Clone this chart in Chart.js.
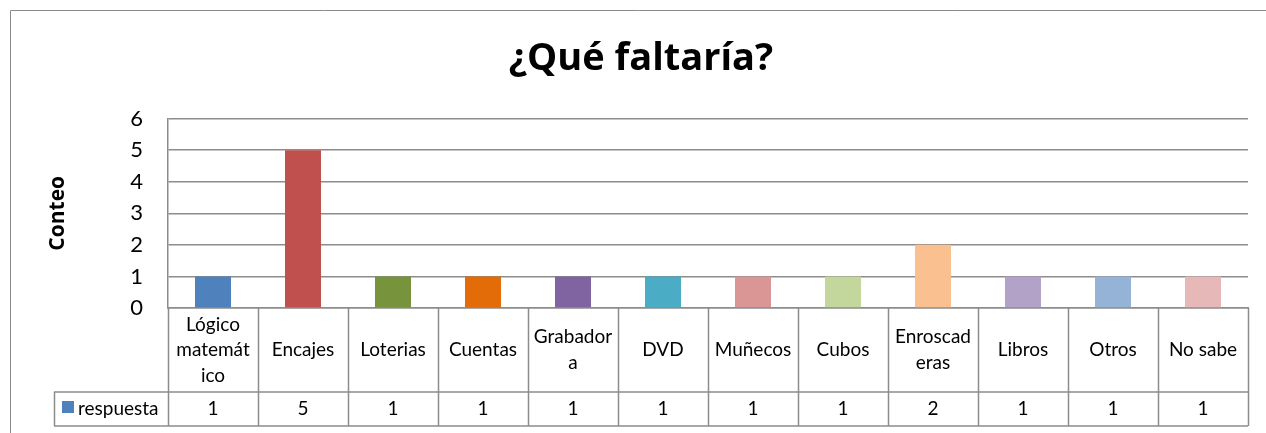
<!DOCTYPE html>
<html>
<head>
<meta charset="utf-8">
<script src="https://cdn.jsdelivr.net/npm/chart.js@4"></script>
<style>
  html, body { margin: 0; padding: 0; background: #fff; }
  canvas { display: block; }
</style>
</head>
<body>
<canvas id="myChart" width="1266" height="433"></canvas>
<script>
const categories = [
  ["Lógico", "matemát", "ico"], "Encajes", "Loterias", "Cuentas", ["Grabador", "a"],
  "DVD", "Muñecos", "Cubos", ["Enroscad", "eras"], "Libros", "Otros", "No sabe",
];
const respuesta = [1, 5, 1, 1, 1, 1, 1, 1, 2, 1, 1, 1];
const barColors = [
  "#4F81BD", "#C0504D", "#77933C", "#E36C09", "#8064A2", "#4BACC6",
  "#D99694", "#C3D69B", "#FAC090", "#B3A2C7", "#95B3D7", "#E6B9B8",
];
const seriesName = "respuesta";

const lineColor = "#8c8c8c";

// outer frame of the chart (cut off at right/bottom like the screenshot)
const framePlugin = {
  id: "frame",
  beforeDraw(chart) {
    const ctx = chart.ctx;
    ctx.save();
    ctx.strokeStyle = "#8a8a8a";
    ctx.lineWidth = 1;
    ctx.beginPath();
    ctx.moveTo(10.5, chart.height);
    ctx.lineTo(10.5, 10.5);
    ctx.lineTo(chart.width, 10.5);
    ctx.stroke();
    ctx.restore();
  },
};

// data table under the plot
const tablePlugin = {
  id: "dataTable",
  afterDraw(chart) {
    const ctx = chart.ctx;
    const x = chart.scales.x;
    const area = chart.chartArea;
    const w = (area.right - area.left) / categories.length;
    const top = area.bottom;
    const mid = 392;
    const bottom = 426;
    const legendLeft = 54;

    ctx.save();
    ctx.strokeStyle = lineColor;
    ctx.lineWidth = 1.5;
    ctx.beginPath();
    for (let i = 0; i <= categories.length; i++) {
      const px = Math.round(area.left + i * w) + 0.5;
      ctx.moveTo(px, top);
      ctx.lineTo(px, bottom);
    }
    ctx.moveTo(legendLeft, mid);
    ctx.lineTo(area.right, mid);
    ctx.moveTo(legendLeft, bottom);
    ctx.lineTo(area.right, bottom);
    ctx.moveTo(legendLeft + 0.5, mid);
    ctx.lineTo(legendLeft + 0.5, bottom);
    ctx.stroke();

    ctx.fillStyle = "#000";
    ctx.font = "19px Lato";
    ctx.textAlign = "center";
    ctx.textBaseline = "middle";
    const lh = 25.5;
    categories.forEach((cat, i) => {
      const cx = x.getPixelForValue(i);
      const lines = Array.isArray(cat) ? cat : [cat];
      const cy = (top + mid) / 2 - ((lines.length - 1) * lh) / 2;
      lines.forEach((ln, j) => ctx.fillText(ln, cx, cy + j * lh));
      ctx.fillText(String(respuesta[i]), cx, (mid + bottom) / 2);
    });

    ctx.fillStyle = barColors[0];
    ctx.fillRect(62, 401, 12, 12);
    ctx.fillStyle = "#000";
    ctx.textAlign = "left";
    ctx.fillText(seriesName, 78, (mid + bottom) / 2);
    ctx.restore();
  },
};

Chart.defaults.font.family = "Lato";
Chart.defaults.color = "#000";

new Chart(document.getElementById("myChart"), {
  type: "bar",
  data: {
    labels: categories,
    datasets: [
      {
        label: seriesName,
        data: respuesta,
        backgroundColor: barColors,
        barPercentage: 0.4,
        categoryPercentage: 1,
      },
    ],
  },
  options: {
    responsive: false,
    devicePixelRatio: 1,
    animation: false,
    layout: { padding: { left: 34, right: 18, top: 0, bottom: 117 } },
    plugins: {
      legend: { display: false },
      tooltip: { enabled: false },
      title: {
        display: true,
        text: "¿Qué faltaría?",
        color: "#000",
        font: { size: 38, weight: "bold", family: "Open Sans" },
        padding: { top: 36, bottom: 37 },
      },
    },
    scales: {
      x: {
        grid: { display: false },
        ticks: { display: false },
        border: { display: true, color: lineColor, width: 1.5 },
      },
      y: {
        min: 0,
        max: 6,
        ticks: { stepSize: 1, padding: 25, font: { size: 22 }, color: "#000" },
        grid: { color: lineColor, lineWidth: 1.5, drawTicks: false },
        border: { display: true, color: lineColor, width: 1.5 },
        title: {
          display: true,
          text: "Conteo",
          color: "#000",
          font: { size: 21, weight: "bold", family: "Open Sans" },
          padding: { top: 11 },
        },
        afterFit: (scale) => {
          scale.width = 134;
        },
      },
    },
  },
  plugins: [framePlugin, tablePlugin],
});
</script>
</body>
</html>
